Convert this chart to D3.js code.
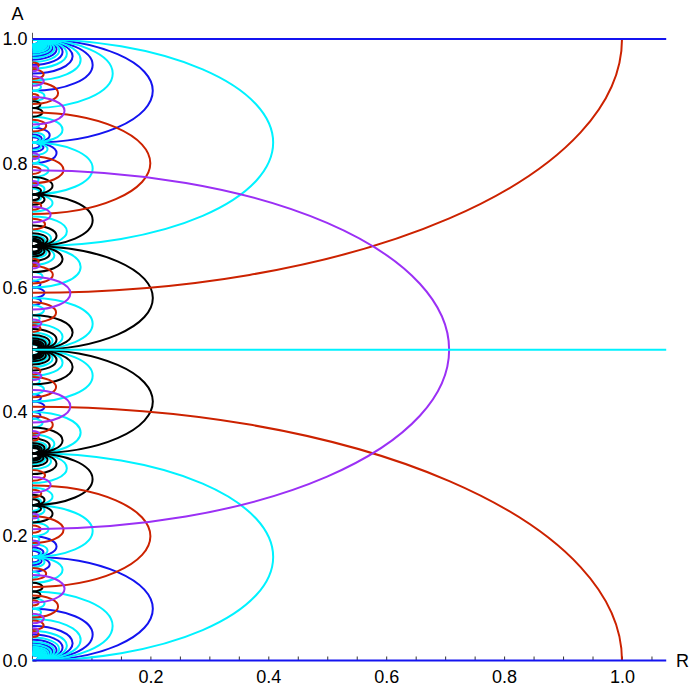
<!DOCTYPE html>
<html>
<head>
<meta charset="utf-8">
<script src="https://cdn.jsdelivr.net/npm/d3@7"></script>
<style>
  body { margin: 0; background: #fff; }
  svg text { font-family: "Liberation Sans", Arial, sans-serif; }
</style>
</head>
<body>
<div id="chart"></div>
<script>
// every arc starts and ends on R = 0, at A = lo and A = hi,
// and reaches out to R = bulge * (hi - lo) / 2
var bulge = Math.sqrt(6);

// straight lines across the whole plot, at these A values
var blueLines = [0, 1];
var cyanLines = [0.5];

var blueArcs = [
  [0,1/6],[5/6,1],[0,1/12],[11/12,1],[0,1/18],[17/18,1],[0,1/24],[23/24,1],
  [0,1/30],[1/6,1/5],[4/5,5/6],[29/30,1],[0,1/36],[35/36,1],
  [0,1/42],[1/7,1/6],[5/6,6/7],[41/42,1],[0,1/48],[47/48,1],[0,1/54],[53/54,1],
  [0,1/60],[2/5,5/12],[7/12,3/5],[59/60,1],[0,1/66],[1/6,2/11],[9/11,5/6],[65/66,1],
  [0,1/72],[71/72,1],[0,1/78],[2/13,1/6],[5/6,11/13],[77/78,1],
  [0,1/84],[5/12,3/7],[4/7,7/12],[83/84,1],[0,1/90],[7/18,2/5],[3/5,11/18],[89/90,1],
  [0,1/96],[95/96,1],[0,1/102],[1/6,3/17],[14/17,5/6],[101/102,1],[0,1/108],[107/108,1],
  [0,1/114],[3/19,1/6],[5/6,16/19],[113/114,1],[0,1/120],[119/120,1]
];

var cyanArcs = [
  [0,1/3],[2/3,1],[0,1/9],[8/9,1],
  [1/6,1/4],[5/12,1/2],[1/2,7/12],[3/4,5/6],
  [0,1/15],[1/3,2/5],[3/5,2/3],[14/15,1],
  [0,1/21],[2/7,1/3],[2/3,5/7],[20/21,1],
  [1/8,1/6],[11/24,1/2],[1/2,13/24],[5/6,7/8],
  [0,1/27],[26/27,1],
  [0,1/33],[1/3,4/11],[7/11,2/3],[32/33,1],
  [1/4,5/18],[17/36,1/2],[1/2,19/36],[13/18,3/4],
  [0,1/39],[4/13,1/3],[2/3,9/13],[38/39,1],
  [0,1/45],[1/5,2/9],[7/9,4/5],[44/45,1],
  [1/6,3/16],[23/48,1/2],[1/2,25/48],[13/16,5/6],
  [0,1/51],[1/3,6/17],[11/17,2/3],[50/51,1],
  [0,1/57],[6/19,1/3],[2/3,13/19],[56/57,1],
  [1/12,1/10],[3/20,1/6],[7/30,1/4],[29/60,1/2],[1/2,31/60],[3/4,23/30],[5/6,17/20],[9/10,11/12],
  [0,1/63],[3/7,4/9],[5/9,4/7],[62/63,1],
  [0,1/69],[1/3,8/23],[15/23,2/3],[68/69,1],
  [3/8,7/18],[35/72,1/2],[1/2,37/72],[11/18,5/8],
  [0,1/75],[8/25,1/3],[2/3,17/25],[74/75,1],
  [0,1/81],[80/81,1],
  [1/14,1/12],[1/6,5/28],[1/4,11/42],[41/84,1/2],[1/2,43/84],[31/42,3/4],[23/28,5/6],[11/12,13/14],
  [0,1/87],[1/3,10/29],[19/29,2/3],[86/87,1],
  [0,1/93],[10/31,1/3],[2/3,21/31],[92/93,1],
  [5/32,1/6],[47/96,1/2],[1/2,49/96],[5/6,27/32],
  [0,1/99],[4/9,5/11],[6/11,5/9],[98/99,1],
  [0,1/105],[2/15,1/7],[4/21,1/5],[1/3,12/35],[23/35,2/3],[4/5,17/21],[6/7,13/15],[104/105,1],
  [13/54,1/4],[53/108,1/2],[1/2,55/108],[3/4,41/54],
  [0,1/111],[12/37,1/3],[2/3,25/37],[110/111,1],
  [0,1/117],[2/9,3/13],[10/13,7/9],[116/117,1],
  [59/120,1/2],[1/2,61/120]
];

var blackArcs = [
  [1/3,1/2],[1/2,2/3],[1/4,1/3],[2/3,3/4],[4/9,1/2],[1/2,5/9],
  [1/3,3/8],[5/8,2/3],[3/10,1/3],[7/15,1/2],[1/2,8/15],[2/3,7/10],
  [2/9,1/4],[3/4,7/9],[1/3,5/14],[10/21,1/2],[1/2,11/21],[9/14,2/3],
  [5/16,1/3],[2/3,11/16],[13/27,1/2],[1/2,14/27],
  [1/4,4/15],[1/3,7/20],[13/20,2/3],[11/15,3/4],
  [7/22,1/3],[16/33,1/2],[1/2,17/33],[2/3,15/22],
  [1/9,1/8],[7/8,8/9],[1/3,9/26],[19/39,1/2],[1/2,20/39],[17/26,2/3],
  [5/21,1/4],[9/28,1/3],[2/3,19/28],[3/4,16/21],
  [1/10,1/9],[22/45,1/2],[1/2,23/45],[8/9,9/10],
  [1/3,11/32],[21/32,2/3],[11/34,1/3],[25/51,1/2],[1/2,26/51],[2/3,23/34],
  [1/4,7/27],[20/27,3/4],[1/3,13/38],[28/57,1/2],[1/2,29/57],[25/38,2/3],
  [13/40,1/3],[2/3,27/40]
];

var redArcs = [
  [-0.40825,0.40825],[0.59175,1.40825],[0.11835,0.28165],[0.71835,0.88165],
  [0.18904,0.23201],[0.76799,0.81096],[0.06921,0.10471],[0.89529,0.93079],
  [0.42367,0.45633],[0.54367,0.57633],[0.36523,0.39339],[0.60661,0.63477],
  [0.13004,0.14903],[0.85097,0.86996],[0.28919,0.30656],[0.69344,0.71081],
  [0.04890,0.06431],[0.93569,0.95110],[0.26256,0.27475],[0.72525,0.73744],
  [0.20552,0.21702],[0.78298,0.79448],[0.46016,0.47135],[0.52865,0.53984],
  [0.03781,0.04640],[0.35360,0.36219],[0.63781,0.64640],[0.95360,0.96219],
  [0.08858,0.09699],[0.90301,0.91142]
];

var purpleArcs = [
  [0.21132,0.78868],[0.38285,0.43533],[0.56467,0.61715],
  [0.09318,0.13759],[0.86241,0.90682],[0.27006,0.29516],[0.70484,0.72994],
  [0.05977,0.07537],[0.92463,0.94023],[0.45130,0.46359],[0.53641,0.54870],
  [0.35951,0.36930],[0.63070,0.64049],[0.18379,0.19326],[0.80674,0.81621],
  [0.22833,0.23646],[0.76354,0.77167],[0.04399,0.05190],[0.94810,0.95601]
];

var xTicks = [0.05,0.1,0.15,0.2,0.25,0.3,0.35,0.4,0.45,0.5,0.55,0.6,0.65,0.7,0.75,0.8,0.85,0.9,0.95,1.0,1.05];
var xLabels = [0.2,0.4,0.6,0.8,1.0];
var yTicks = [0,0.2,0.4,0.6,0.8,1.0];
var yLabels = [0,0.2,0.4,0.6,0.8,1.0];

var width = 692, height = 693;
var rMax = 1.075, aTop = 1.01;
var lineW = 2, fontSize = 18;

var x = d3.scaleLinear().domain([0, rMax]).range([32.5, 32.5 + rMax * 589.5]);
var y = d3.scaleLinear().domain([0, 1]).range([660.5, 39]);

var svg = d3.select("#chart").append("svg")
    .attr("width", width)
    .attr("height", height);

svg.append("clipPath").attr("id", "plotclip")
  .append("rect")
    .attr("x", x(0) - 1)
    .attr("y", y(1))
    .attr("width", x(rMax) - x(0) + 1)
    .attr("height", y(0) - y(1));

// axes
var fmt = d3.format(".1f");
var xAxis = d3.axisBottom(x)
    .tickValues(xTicks)
    .tickSize(-4)
    .tickSizeOuter(0)
    .tickPadding(10)
    .tickFormat(function(d) {
      return xLabels.some(function(v) { return Math.abs(v - d) < 1e-9; }) ? fmt(d) : "";
    });

svg.append("g")
    .attr("transform", "translate(0," + y(0) + ")")
    .call(xAxis)
    .call(function(g) { g.select(".domain").remove(); })
    .attr("font-size", fontSize)
    .attr("font-family", "Liberation Sans, Arial, sans-serif")
    .call(function(g) { g.selectAll("line").attr("stroke", "#333"); });

var yAxis = d3.axisLeft(y)
    .tickValues(yTicks)
    .tickSize(-4)
    .tickSizeOuter(0)
    .tickPadding(5)
    .tickFormat(function(d) {
      return yLabels.some(function(v) { return Math.abs(v - d) < 1e-9; }) ? fmt(d) : "";
    });

svg.append("g")
    .attr("transform", "translate(" + x(0) + ",0)")
    .call(yAxis)
    .call(function(g) { g.select(".domain").remove(); })
    .attr("font-size", fontSize)
    .attr("font-family", "Liberation Sans, Arial, sans-serif")
    .call(function(g) { g.selectAll("line").attr("stroke", "#333"); });

svg.append("line")
    .attr("x1", x(0)).attr("x2", x(0))
    .attr("y1", y(0)).attr("y2", y(aTop))
    .attr("stroke", "#555").attr("stroke-width", 1);

svg.append("text")
    .attr("x", 17.5).attr("y", 20)
    .attr("text-anchor", "middle")
    .attr("font-size", fontSize)
    .text("A");

svg.append("text")
    .attr("x", 676).attr("y", 667)
    .attr("font-size", fontSize)
    .text("R");

function arcPath(d) {
  var lo = d[0], hi = d[1];
  var rx = x(bulge * (hi - lo) / 2) - x(0);
  var ry = (y(lo) - y(hi)) / 2;
  return "M" + x(0) + "," + y(lo) + "A" + rx + "," + ry + " 0 0 0 " + x(0) + "," + y(hi);
}

var plot = svg.append("g").attr("clip-path", "url(#plotclip)");

var families = [
  {data: blueArcs, color: "#1414f0"},
  {data: cyanArcs, color: "#00f2ff"},
  {data: blackArcs, color: "#000000"},
  {data: redArcs, color: "#cc2200"},
  {data: purpleArcs, color: "#9b30f5"}
];

families.forEach(function(f) {
  plot.append("g").selectAll("path")
      .data(f.data)
    .enter().append("path")
      .attr("d", arcPath)
      .attr("fill", "none")
      .attr("stroke", f.color)
      .attr("stroke-width", lineW);
});

svg.selectAll(".cyanline")
    .data(cyanLines)
  .enter().append("line")
    .attr("class", "cyanline")
    .attr("x1", x(0)).attr("x2", x(rMax))
    .attr("y1", function(d) { return y(d); })
    .attr("y2", function(d) { return y(d); })
    .attr("stroke", "#00f2ff")
    .attr("stroke-width", lineW);

svg.selectAll(".blueline")
    .data(blueLines)
  .enter().append("line")
    .attr("class", "blueline")
    .attr("x1", x(0)).attr("x2", x(rMax))
    .attr("y1", function(d) { return y(d); })
    .attr("y2", function(d) { return y(d); })
    .attr("stroke", "#1414f0")
    .attr("stroke-width", lineW);
</script>
</body>
</html>
